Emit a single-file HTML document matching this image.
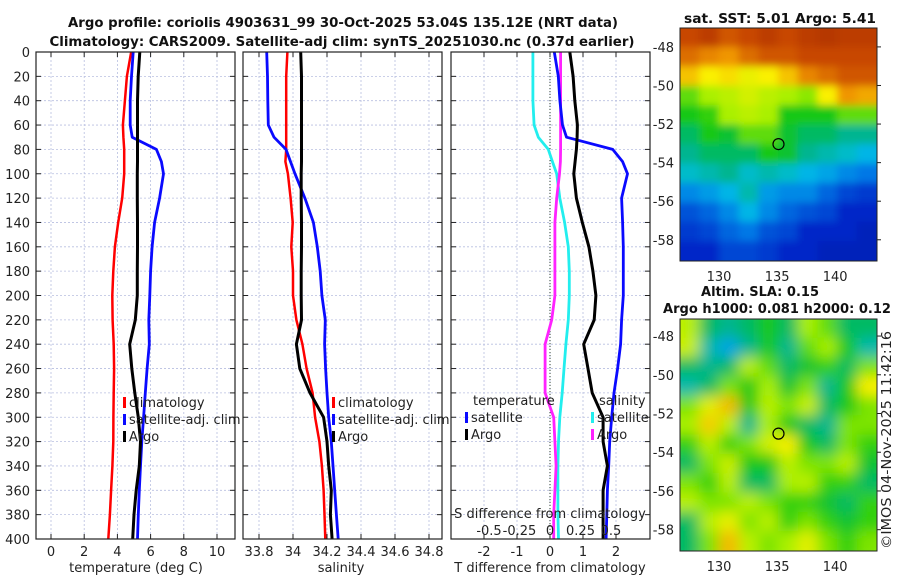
<!DOCTYPE html>
<html><head><meta charset="utf-8">
<style>
html,body{margin:0;padding:0;background:#fff;}
svg{display:block;font-family:"DejaVu Sans","Liberation Sans",sans-serif;}
.t{font-size:13px;fill:#222;}
.b{font-size:13px;font-weight:bold;fill:#111;}
</style></head>
<body>
<svg id="fig" width="900" height="580" viewBox="0 0 900 580" xmlns="http://www.w3.org/2000/svg">
<text class="b" x="343" y="27" text-anchor="middle" textLength="550" lengthAdjust="spacingAndGlyphs">Argo profile: coriolis 4903631_99 30-Oct-2025 53.04S 135.12E (NRT data)</text>
<text class="b" x="342" y="46" text-anchor="middle" textLength="585" lengthAdjust="spacingAndGlyphs">Climatology: CARS2009. Satellite-adj clim: synTS_20251030.nc (0.37d earlier)</text>
<text class="b" x="780" y="23" text-anchor="middle" textLength="192" lengthAdjust="spacingAndGlyphs">sat. SST: 5.01 Argo: 5.41</text>
<text class="b" x="760" y="296" text-anchor="middle" textLength="118" lengthAdjust="spacingAndGlyphs">Altim. SLA: 0.15</text>
<text class="b" x="777" y="313" text-anchor="middle" textLength="228" lengthAdjust="spacingAndGlyphs">Argo h1000: 0.081 h2000: 0.12</text>
<text class="t" transform="translate(891,440) rotate(-90)" text-anchor="middle" textLength="218" lengthAdjust="spacingAndGlyphs">©IMOS 04-Nov-2025 11:42:16</text>
<g id="plots"></g>
</svg>
<script>
const depths   = [0,20,40,60,70,80,90,100,120,140,160,180,200,220,240,260,280,300,320,340,360,380,400];
const tempClim = [4.83,4.57,4.45,4.33,4.36,4.41,4.41,4.41,4.29,4.05,3.85,3.75,3.69,3.71,3.78,3.80,3.78,3.76,3.75,3.70,3.62,3.55,3.45];
const tempSat  = [4.95,4.85,4.77,4.77,4.89,6.35,6.65,6.78,6.54,6.24,6.09,6.00,5.95,5.89,5.92,5.79,5.68,5.58,5.47,5.39,5.32,5.26,5.21];
const tempArgo = [5.35,5.25,5.21,5.21,5.21,5.21,5.21,5.20,5.20,5.21,5.21,5.20,5.20,5.08,4.74,4.87,5.05,5.26,5.39,5.32,5.13,5.00,4.92];
const salClim  = [33.967,33.96,33.96,33.96,33.96,33.96,33.955,33.97,33.986,33.998,33.99,34.0,34.0,34.02,34.055,34.08,34.115,34.13,34.155,34.17,34.18,34.185,34.19];
const salSat   = [33.845,33.85,33.852,33.855,33.888,33.959,33.985,34.012,34.07,34.12,34.143,34.16,34.17,34.19,34.186,34.192,34.2,34.21,34.225,34.235,34.245,34.255,34.266];
const salArgo  = [34.045,34.05,34.05,34.05,34.05,34.05,34.05,34.048,34.048,34.05,34.05,34.048,34.048,34.05,34.02,34.04,34.10,34.18,34.20,34.21,34.225,34.22,34.23];
const dTsat    = [0.13,0.25,0.30,0.38,0.50,1.90,2.20,2.35,2.17,2.20,2.22,2.22,2.22,2.17,2.14,2.05,1.94,1.87,1.81,1.78,1.74,1.72,1.70];
const dTargo   = [0.60,0.70,0.75,0.83,0.82,0.80,0.76,0.72,0.80,0.98,1.18,1.30,1.39,1.34,1.02,1.15,1.28,1.61,1.61,1.74,1.61,1.61,1.61];
const dSsat    = [-0.14,-0.14,-0.14,-0.13,-0.096,-0.014,0.02,0.055,0.08,0.12,0.15,0.158,0.158,0.15,0.13,0.115,0.10,0.08,0.07,0.065,0.065,0.065,0.07];
const dSargo   = [0.087,0.087,0.087,0.087,0.087,0.087,0.085,0.078,0.055,0.04,0.04,0.04,0.04,0.014,-0.04,-0.04,-0.04,0.03,0.04,0.05,0.04,0.03,0.03];
const tempTicks = [0,2,4,6,8,10];
const salTicks  = [33.8,34,34.2,34.4,34.6,34.8];
const salTickLabels = ["33.8","34","34.2","34.4","34.6","34.8"];
const dTTicks = [-2,-1,0,1,2];
const dSTicks = [-0.5,-0.25,0,0.25,0.5];
const dSTickLabels = ["-0.5","-0.25","0","0.25","0.5"];
const depthTicks = [0,20,40,60,80,100,120,140,160,180,200,220,240,260,280,300,320,340,360,380,400];
const sstGrid = [
[0.90,0.92,0.88,0.90,0.92,0.90,0.92,0.93,0.92,0.92],
[0.85,0.82,0.80,0.85,0.88,0.88,0.90,0.90,0.90,0.90],
[0.75,0.70,0.72,0.68,0.70,0.75,0.82,0.85,0.88,0.88],
[0.55,0.60,0.62,0.65,0.62,0.60,0.58,0.70,0.80,0.78],
[0.50,0.52,0.60,0.62,0.60,0.50,0.50,0.50,0.55,0.55],
[0.45,0.50,0.48,0.55,0.55,0.48,0.45,0.45,0.42,0.42],
[0.42,0.45,0.45,0.45,0.50,0.48,0.42,0.40,0.38,0.35],
[0.38,0.40,0.42,0.38,0.40,0.38,0.35,0.33,0.30,0.28],
[0.30,0.32,0.35,0.40,0.32,0.30,0.30,0.25,0.20,0.18],
[0.22,0.25,0.30,0.35,0.30,0.25,0.22,0.20,0.15,0.15],
[0.18,0.20,0.25,0.28,0.22,0.20,0.15,0.15,0.15,0.12],
[0.15,0.15,0.20,0.20,0.18,0.15,0.15,0.12,0.12,0.12]];
const slaGrid = [
[0.62,0.45,0.42,0.45,0.50,0.45,0.60,0.55,0.45,0.45],
[0.64,0.40,0.33,0.42,0.50,0.42,0.55,0.60,0.50,0.40],
[0.45,0.42,0.45,0.62,0.55,0.45,0.48,0.52,0.45,0.57],
[0.40,0.45,0.57,0.50,0.60,0.48,0.57,0.42,0.50,0.70],
[0.57,0.67,0.76,0.50,0.62,0.57,0.64,0.45,0.50,0.57],
[0.60,0.74,0.62,0.42,0.60,0.50,0.45,0.42,0.57,0.57],
[0.52,0.62,0.52,0.57,0.65,0.70,0.50,0.45,0.57,0.52],
[0.45,0.57,0.64,0.50,0.50,0.62,0.57,0.57,0.62,0.48],
[0.57,0.52,0.62,0.45,0.45,0.60,0.62,0.52,0.52,0.45],
[0.62,0.57,0.57,0.62,0.57,0.52,0.52,0.48,0.45,0.52],
[0.45,0.62,0.68,0.57,0.62,0.52,0.57,0.52,0.48,0.52],
[0.45,0.57,0.76,0.62,0.57,0.60,0.67,0.57,0.52,0.57]];
const lonTicks = [130,135,140];
const latTicks = [-48,-50,-52,-54,-56,-58];
const argoLon = 135.12, argoLat = -53.04;

const NS="http://www.w3.org/2000/svg";
const root=document.getElementById('plots');
function mk(tag,attrs,parent){const e=document.createElementNS(NS,tag);for(const k in attrs)e.setAttribute(k,attrs[k]);(parent||root).appendChild(e);return e;}
const Y0=52, Y1=539;
function yD(d){return Y0+(d/400)*(Y1-Y0);}
function linear(d0,d1,r0,r1){return v=>r0+(v-d0)/(d1-d0)*(r1-r0);}

function panel(name,x0,x1,xs,gridVals){
  const g=mk('g',{});
  
  
  depthTicks.forEach(d=>{ if(d>0&&d<400){const l=mk('line',{x1:x0,x2:x1,y1:yD(d),y2:yD(d),stroke:'#b8bfe0','stroke-width':0.8,'stroke-dasharray':'2,2'},g);
    }
    mk('line',{x1:x0,x2:x0+5,y1:yD(d),y2:yD(d),stroke:'#222'},g);
    mk('line',{x1:x1-5,x2:x1,y1:yD(d),y2:yD(d),stroke:'#222'},g);
  });
  gridVals.forEach(v=>{const x=xs(v);const l=mk('line',{x1:x,x2:x,y1:Y0,y2:Y1,stroke:'#b8bfe0','stroke-width':0.8,'stroke-dasharray':'2,2'},g);
    
    mk('line',{x1:x,x2:x,y1:Y0,y2:Y0+5,stroke:'#222'},g);
    mk('line',{x1:x,x2:x,y1:Y1-5,y2:Y1,stroke:'#222'},g);});
  return g;
}
function frame(g,x0,x1,name){const r=mk('rect',{x:x0,y:Y0,width:x1-x0,height:Y1-Y0,fill:'none',stroke:'#222','stroke-width':1.2},g);
  }
function line(g,vals,xs,color,w,name){
  const pts=vals.map((v,i)=>xs(v).toFixed(1)+','+yD(depths[i]).toFixed(1)).join(' ');
  const p=mk('polyline',{points:pts,fill:'none',stroke:color,'stroke-width':w,'stroke-linejoin':'round'},g);
  
}
function txt(g,x,y,s,anchor,name,cls){const t=mk('text',{x:x,y:y,'text-anchor':anchor||'start',class:cls||'t'},g);t.textContent=s;
  return t;}
function legend(g,x,y,color,label,name){
  const r=mk('rect',{x:x,y:y-10,width:3,height:11,fill:color},g);
  
  txt(g,x+6,y,label,'start',name);
}

depthTicks.forEach(d=>{txt(root,30,yD(d)+5,String(d),'end','depth-tick-label');});

const xT=linear(0,10,51,217);
const g1=panel('temperature-panel',36,235,xT,tempTicks);
line(g1,tempClim,xT,'#ff0000',2.5,'temp-climatology-line');
line(g1,tempSat,xT,'#0a0aff',2.8,'temp-satellite-line');
line(g1,tempArgo,xT,'#000',3,'temp-argo-line');
frame(g1,36,235,'temperature-axes');
tempTicks.forEach(v=>txt(g1,xT(v),556,String(v),'middle','temp-tick-label'));
txt(g1,136,572,'temperature (deg C)','middle','temperature-axis-title');
legend(g1,123,407,'#ff0000','climatology','legend-climatology');
legend(g1,123,424,'#0a0aff','satellite-adj. clim','legend-satellite-adj');
legend(g1,123,441,'#000','Argo','legend-argo');

const xS=linear(33.8,34.8,259,429);
const g2=panel('salinity-panel',243,442,xS,salTicks);
line(g2,salClim,xS,'#ff0000',2.5,'sal-climatology-line');
line(g2,salSat,xS,'#0a0aff',2.8,'sal-satellite-line');
line(g2,salArgo,xS,'#000',3,'sal-argo-line');
frame(g2,243,442,'salinity-axes');
salTicks.forEach((v,i)=>txt(g2,xS(v),556,salTickLabels[i],'middle','sal-tick-label'));
txt(g2,341,572,'salinity','middle','salinity-axis-title');
legend(g2,332,407,'#ff0000','climatology','legend-sal-climatology');
legend(g2,332,424,'#0a0aff','satellite-adj. clim','legend-sal-satellite-adj');
legend(g2,332,441,'#000','Argo','legend-sal-argo');

const xDT=linear(-2,2,484,616);
const xDS=linear(-0.5,0.5,489,611);
const g3=panel('difference-panel',451,650,xDT,dTTicks);
const zl=mk('line',{x1:xDT(0),x2:xDT(0),y1:Y0,y2:Y1,stroke:'#334433','stroke-width':1,'stroke-dasharray':'1,2'},g3);

line(g3,dSsat,xDS,'#22eeee',2.8,'sdiff-satellite-line');
line(g3,dSargo,xDS,'#ff22ff',2.8,'sdiff-argo-line');
line(g3,dTsat,xDT,'#0a0aff',2.8,'tdiff-satellite-line');
line(g3,dTargo,xDT,'#000',3,'tdiff-argo-line');
frame(g3,451,650,'difference-axes');
dTTicks.forEach(v=>txt(g3,xDT(v),556,String(v),'middle','tdiff-tick-label'));
txt(g3,550,572,'T difference from climatology','middle','tdiff-axis-title');
dSTicks.forEach((v,i)=>txt(g3,xDS(v),535,dSTickLabels[i],'middle','sdiff-tick-label'));
txt(g3,550,518,'S difference from climatology','middle','sdiff-axis-title');
txt(g3,473,405,'temperature','start','legend-temperature-header');
txt(g3,599,405,'salinity','start','legend-salinity-header');
legend(g3,465,422,'#0a0aff','satellite','legend-tdiff-satellite');
legend(g3,465,439,'#000','Argo','legend-tdiff-argo');
legend(g3,591,422,'#22eeee','satellite','legend-sdiff-satellite');
legend(g3,591,439,'#ff22ff','Argo','legend-sdiff-argo');

const cmapStops=[[0,[0,0,130]],[0.15,[0,40,200]],[0.28,[0,120,230]],[0.36,[0,190,230]],[0.43,[0,180,130]],[0.5,[20,200,20]],[0.6,[170,240,0]],[0.7,[250,240,0]],[0.8,[240,150,0]],[0.9,[200,70,0]],[1,[140,20,0]]];
function cmap(v){v=Math.max(0,Math.min(1,v));
  for(let i=1;i<cmapStops.length;i++){const a=cmapStops[i-1],b=cmapStops[i];
    if(v<=b[0]){const t=(v-a[0])/(b[0]-a[0]);
      return 'rgb('+a[1].map((c,k)=>Math.round(c+(b[1][k]-c)*t)).join(',')+')';}}
  return 'rgb(140,20,0)';}
function drawMap(name,grid,mx0,mx1,my0,my1,latTop,latBot,filt){
  const g=mk('g',{});
  
  const lonX=linear(126.64,143.6,mx0,mx1);
  const latY=linear(latTop,latBot,my0,my1);
  const rows=grid.length, cols=grid[0].length;
  const cw=(mx1-mx0)/cols, ch=(my1-my0)/rows;
  const clip=mk('clipPath',{id:name+'-clip'},g);
  mk('rect',{x:mx0,y:my0,width:mx1-mx0,height:my1-my0},clip);
  const cg=mk('g',{'clip-path':'url(#'+name+'-clip)'},g);
  const inner=mk('g',{filter:'url(#'+filt+')'},cg);
  grid.forEach((row,ri)=>row.forEach((v,ci)=>{
    const ex0=ci===0?-12:0, ex1=ci===cols-1?12:0, ey0=ri===0?-12:0, ey1=ri===rows-1?12:0;
    const r=mk('rect',{x:(mx0+ci*cw-0.5+ex0).toFixed(1),y:(my0+ri*ch-0.5+ey0).toFixed(1),width:(cw+1-ex0+ex1).toFixed(1),height:(ch+1-ey0+ey1).toFixed(1),fill:cmap(v)},inner);
    
  }));
  const c=mk('circle',{cx:lonX(argoLon),cy:latY(argoLat),r:5.5,fill:'none',stroke:'#000','stroke-width':1.2},g);
  
  const f=mk('rect',{x:mx0,y:my0,width:mx1-mx0,height:my1-my0,fill:'none',stroke:'#222','stroke-width':1},g);
  
  latTicks.forEach(l=>{const y=latY(l);txt(g,mx0-6,y+5,String(l),'end','lat-tick-label');
    mk('line',{x1:mx1,x2:mx1+4,y1:y,y2:y,stroke:'#222'},g);});
  lonTicks.forEach(l=>{const x=lonX(l);txt(g,x,my1+20,String(l),'middle','lon-tick-label');});
}
const defs=mk('defs',{});
const f1=mk('filter',{id:'blurS',x:'-20%',y:'-20%',width:'140%',height:'140%'},defs);
mk('feGaussianBlur',{stdDeviation:4},f1);
const f2=mk('filter',{id:'blurA',x:'-20%',y:'-20%',width:'140%',height:'140%'},defs);
mk('feGaussianBlur',{stdDeviation:7},f2);
drawMap('sst-map',sstGrid,680,877,28,261,-47.02,-59.1,'blurS');
drawMap('sla-map',slaGrid,680,877,319,551,-47.12,-59.1,'blurA');
</script>
</body></html>
